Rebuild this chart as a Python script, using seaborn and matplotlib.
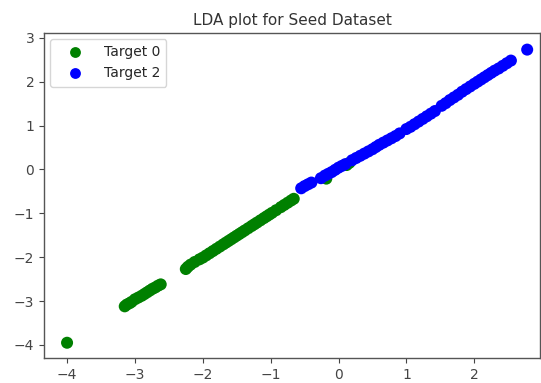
import matplotlib
matplotlib.use("Agg")
import matplotlib.pyplot as plt
import seaborn as sns
import pandas as pd

# LDA projections (component 1, component 2) per target class
target0_ld1 = [-4.00,
               -3.15, -3.12, -3.08, -3.05, -3.00, -2.95, -2.90, -2.86, -2.82,
               -2.78, -2.74, -2.70, -2.66, -2.62,
               -2.25, -2.22, -2.18, -2.12, -2.05, -2.00, -1.95, -1.90, -1.85,
               -1.80, -1.75, -1.70, -1.66, -1.62, -1.58, -1.54, -1.50, -1.46,
               -1.42, -1.38, -1.33, -1.28, -1.24, -1.20, -1.15, -1.10, -1.06,
               -1.02, -0.98, -0.92, -0.85, -0.80, -0.75, -0.70, -0.66,
               -0.18, 0.12, 0.16]
target0_ld2 = [-3.95,
               -3.12, -3.08, -3.05, -3.02, -2.96, -2.92, -2.88, -2.84, -2.80,
               -2.76, -2.72, -2.69, -2.65, -2.62,
               -2.27, -2.22, -2.17, -2.11, -2.05, -2.01, -1.96, -1.91, -1.86,
               -1.81, -1.76, -1.71, -1.67, -1.63, -1.59, -1.55, -1.51, -1.47,
               -1.43, -1.39, -1.34, -1.29, -1.25, -1.21, -1.16, -1.11, -1.07,
               -1.03, -0.99, -0.93, -0.86, -0.81, -0.76, -0.71, -0.67,
               -0.21, 0.10, 0.15]

target2_ld1 = [-0.55, -0.50, -0.45, -0.40,
               -0.26, -0.20, -0.15, -0.10, -0.05, 0.00, 0.05, 0.10,
               0.20, 0.26, 0.32, 0.38, 0.44, 0.50, 0.55, 0.60, 0.66, 0.72,
               0.78, 0.84, 0.90,
               1.00, 1.06, 1.12, 1.18, 1.24, 1.30, 1.36, 1.42,
               1.52, 1.58, 1.64, 1.70, 1.76, 1.82, 1.88, 1.94, 2.00, 2.05,
               2.10, 2.15, 2.20, 2.25, 2.30, 2.36, 2.42, 2.48, 2.54,
               2.78]
target2_ld2 = [-0.43, -0.38, -0.34, -0.30,
               -0.20, -0.14, -0.10, -0.06, -0.01, 0.04, 0.08, 0.12,
               0.21, 0.26, 0.31, 0.36, 0.41, 0.46, 0.51, 0.56, 0.61, 0.66,
               0.71, 0.76, 0.82,
               0.92, 0.97, 1.03, 1.09, 1.15, 1.21, 1.27, 1.33,
               1.45, 1.51, 1.58, 1.64, 1.70, 1.77, 1.83, 1.89, 1.95, 2.00,
               2.05, 2.10, 2.15, 2.20, 2.25, 2.30, 2.36, 2.42, 2.48,
               2.73]

labels = ["Target 0", "Target 2"]
colors = ["green", "blue"]

df = pd.DataFrame({
    "LD1": target0_ld1 + target2_ld1,
    "LD2": target0_ld2 + target2_ld2,
    "target": [labels[0]] * len(target0_ld1) + [labels[1]] * len(target2_ld1),
})

sns.set_style("ticks")
plt.rcParams["font.family"] = ["DejaVu Sans"]

fig = plt.figure(figsize=(5.41, 3.83), dpi=100)
ax = fig.add_axes([0.0813, 0.065, 0.917, 0.849])

sns.scatterplot(data=df, x="LD1", y="LD2", hue="target",
                palette=dict(zip(labels, colors)), s=75, linewidth=0,
                ax=ax)

ax.set_xlim(-4.34, 2.97)
ax.set_ylim(-4.30, 3.11)
ax.set_xlabel("")
ax.set_ylabel("")
ax.set_title("LDA plot for Seed Dataset", fontsize=11, color="#333333")
ax.tick_params(labelsize=10, colors="#444444", length=3.5)
for side in ax.spines.values():
    side.set_color("#555555")
    side.set_linewidth(1.0)

ax.legend(loc="upper left", fontsize=10, markerscale=0.9, frameon=True,
          handlelength=2.6, handletextpad=0.8, borderpad=0.45,
          borderaxespad=0.45)

fig.savefig("out.png", dpi=100)
